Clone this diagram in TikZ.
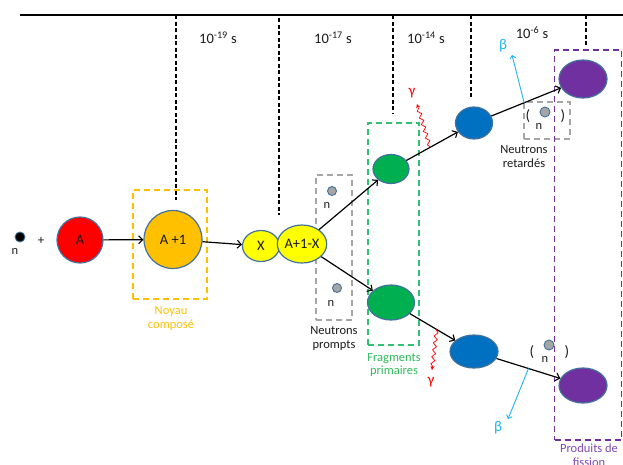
\documentclass[tikz,border=0pt]{standalone}
\usepackage{fontspec}
\setmainfont{Carlito}
\usetikzlibrary{shapes.geometric,decorations.pathmorphing,arrows.meta,calc}
\definecolor{nborder}{HTML}{41719C}
\definecolor{nred}{HTML}{FF0000}
\definecolor{norange}{HTML}{FFC000}
\definecolor{nyellow}{HTML}{FFFF00}
\definecolor{ngreen}{HTML}{00B050}
\definecolor{nblue}{HTML}{0070C0}
\definecolor{npurple}{HTML}{7030A0}
\definecolor{ngray}{HTML}{A5A5A5}
\definecolor{boxgray}{HTML}{A6A6A6}
\definecolor{betablue}{HTML}{1FB4F0}
\definecolor{txt}{HTML}{1A1A1A}
\definecolor{capgreen}{HTML}{2DBA5A}
\definecolor{cappurple}{HTML}{8048B4}
\begin{document}
\begin{tikzpicture}[x=1pt,y=-1pt,
  nucleus/.style={draw=nborder, line width=1.2pt, inner sep=0pt, text=txt, font=\fontsize{14.5}{16}\selectfont},
  ell/.style={nucleus, ellipse},
  neutron/.style={circle, draw=nborder, fill=ngray, line width=0.9pt, minimum size=9pt, inner sep=0pt},
  blackn/.style={circle, draw=nborder, fill=black, line width=0.9pt, minimum size=10pt, inner sep=0pt},
  flow/.style={-{Straight Barb[length=4pt,width=8pt,line width=1.1pt]}, line width=1.2pt, black},
  tickline/.style={dash pattern=on 4pt off 2.5pt, line width=1.4pt, black},
  boxd/.style={draw, dash pattern=on 6pt off 4pt, line width=1.5pt, inner sep=0pt},
  caption/.style={font=\fontsize{12.5}{13.5}\selectfont, align=center},
  small/.style={font=\fontsize{12.5}{14}\selectfont, text=txt, inner sep=0pt},
  timelab/.style={font=\fontsize{14.5}{16}\selectfont, text=txt, inner sep=0pt},
  gammaarrow/.style={red, line width=0.7pt, -{Stealth[length=4pt,width=4pt]},
     decorate, decoration={snake, amplitude=1.8pt, segment length=7pt, pre length=1pt, post length=3pt}},
  betaarrow/.style={betablue, line width=0.9pt, -{Straight Barb[length=3pt,width=6pt]}},
  greek/.style={font=\fontsize{15}{16}\selectfont, inner sep=0pt}
]
\useasboundingbox (0,0) rectangle (623,464);

% time axis
\draw[line width=2pt, black] (20,15) -- (623,15);
\draw[tickline] (176,15) -- (176,200);
\draw[tickline] (279,18) -- (279,215);
\draw[tickline] (393,15) -- (393,113);
\draw[tickline] (471,15) -- (471,97);
\draw[tickline] (586,15) -- (586,45);
\node[timelab] (t19) at (218,38) {10\textsuperscript{-19} s};
\node[timelab] (t17) at (333,38) {10\textsuperscript{-17} s};
\node[timelab] (t14) at (426,38) {10\textsuperscript{-14} s};
\node[timelab] (t6) at (532,33) {10\textsuperscript{-6} s};

% dashed boxes
\node[boxd, draw=norange, minimum width=74pt, minimum height=109pt] (noyau) at (170,244.5) {};
\node[boxd, draw=boxgray, minimum width=36pt, minimum height=145pt] (prompts) at (334,247.5) {};
\node[boxd, draw=ngreen!80, minimum width=51pt, minimum height=222pt] (frag) at (393.5,234) {};
\node[boxd, draw=boxgray, minimum width=46pt, minimum height=37pt] (retbox) at (547,120.5) {};
\node[boxd, draw=npurple, minimum width=67pt, minimum height=390pt] (prod) at (588,245) {};

% captions
\node[caption, text=norange] (capnoyau) at (171,318.5) {Noyau\\composé};
\node[caption, text=txt] (capprompts) at (334,338.5) {Neutrons\\prompts};
\node[caption, text=capgreen] (capfrag) at (394,365) {Fragments\\primaires};
\node[caption, text=txt] (capret) at (524,156.5) {Neutrons\\retardés};
\node[caption, text=cappurple] (capprod) at (589,455) {Produits de\\fission};

% incoming neutron
\node[blackn] (n0) at (20,237) {};
\node[small] (n0l) at (15,251) {n};
\node[small, font=\fontsize{13}{14}\selectfont] (plus) at (41,241) {+};

% nuclei
\node[nucleus, circle, fill=nred, minimum size=46pt] (A) at (80,240) {A};
\node[nucleus, circle, fill=norange, minimum size=58pt] (A1) at (173,239.5) {A +1};
\node[ell, fill=nyellow, minimum width=37pt, minimum height=31pt] (X) at (261,246) {X};
\node[ell, fill=nyellow, minimum width=46pt, minimum height=38pt] (AX) at (302,244) {A+1-X};
\node[ell, fill=ngreen, minimum width=36pt, minimum height=29pt] (G1) at (391,169) {};
\node[ell, fill=ngreen, minimum width=47pt, minimum height=35pt] (G2) at (391,302.5) {};
\node[ell, fill=nblue, minimum width=37pt, minimum height=32pt] (B1) at (474,123) {};
\node[ell, fill=nblue, minimum width=48pt, minimum height=33pt] (B2) at (474,351.5) {};
\node[ell, fill=npurple, minimum width=48pt, minimum height=38pt] (P1) at (583,79) {};
\node[ell, fill=npurple, minimum width=48pt, minimum height=35pt] (P2) at (583,385.5) {};

% prompt neutrons
\node[neutron] (pn1) at (332,191) {};
\node[small] (pn1l) at (327,205) {n};
\node[neutron] (pn2) at (337,288) {};
\node[small] (pn2l) at (331,303) {n};

% delayed neutrons
\node[small, font=\fontsize{15}{16}\selectfont] (lp1) at (528,116) {(};
\node[neutron, minimum size=10pt] (dn1) at (545,112) {};
\node[small] (dn1l) at (539,126) {n};
\node[small, font=\fontsize{15}{16}\selectfont] (rp1) at (563,116) {)};
\node[small, font=\fontsize{15}{16}\selectfont] (lp2) at (532,352) {(};
\node[neutron, minimum size=10pt] (dn2) at (549,345) {};
\node[small] (dn2l) at (545,359) {n};
\node[small, font=\fontsize{15}{16}\selectfont] (rp2) at (567,352) {)};

% main flow
\draw[flow] (A) -- (A1);
\draw[flow] (A1) -- (X);
\draw[flow] (AX) -- (G1);
\draw[flow] (AX) -- (G2);
\draw[flow] (G1) -- (B1);
\draw[flow] (G2) -- (B2);
\draw[flow] (B1) -- (P1);
\draw[flow] (B2) -- (P2);

% gamma emissions
\coordinate (g1s) at ($(G1)!0.47!(B1)$);
\coordinate (g1e) at (417,104);
\coordinate (g2s) at ($(G2)!0.55!(B2)$);
\coordinate (g2e) at (432,370);
\draw[gammaarrow] (g1s) -- (g1e);
\draw[gammaarrow] (g2s) -- (g2e);
\node[greek, text=red] (gam1) at (412,93) {γ};
\node[greek, text=red] (gam2) at (431,382) {γ};

% beta emissions
\coordinate (b1s) at ($(B1)!0.46!(P1)$);
\coordinate (b1e) at (512,55);
\coordinate (b2s) at ($(B2)!0.5!(P2)$);
\coordinate (b2e) at (508,419);
\draw[betaarrow] (b1s) -- (b1e);
\draw[betaarrow] (b2s) -- (b2e);
\node[greek, text=betablue] (bet1) at (503,46) {β};
\node[greek, text=betablue] (bet2) at (498,428) {β};
\end{tikzpicture}
\end{document}
